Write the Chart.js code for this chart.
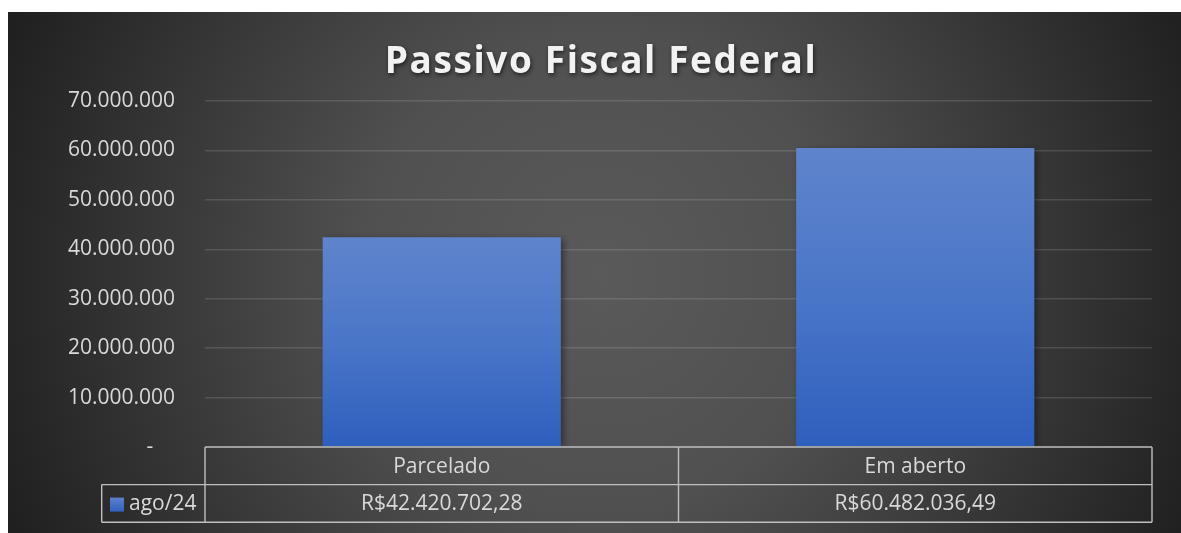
<!DOCTYPE html>
<html>
<head>
<meta charset="utf-8">
<script src="https://cdn.jsdelivr.net/npm/chart.js@4"></script>
<style>
  html, body { margin: 0; padding: 0; background: #fff; }
  #wrap { position: absolute; left: 8px; top: 12px; width: 1173px; height: 521px; }
</style>
</head>
<body>
<div id="wrap"><canvas id="chart"></canvas></div>
<script>
// chart data
const categories = ['Parcelado', 'Em aberto'];
const seriesName = 'ago/24';
const values = [42420702.28, 60482036.49];
const yTicks = [0, 10000000, 20000000, 30000000, 40000000, 50000000, 60000000, 70000000];
const titleText = 'Passivo Fiscal Federal';

const FONT = '"Open Sans", sans-serif';
const TEXT_COLOR = '#d9d9d9';

function fmtThousands(v) {
  if (v === 0) return '-    ';
  return v.toString().replace(/\B(?=(\d{3})+(?!\d))/g, '.');
}

function fmtMoney(v) {
  const parts = v.toFixed(2).split('.');
  return 'R$' + parts[0].replace(/\B(?=(\d{3})+(?!\d))/g, '.') + ',' + parts[1];
}

// dark radial background
const bgPlugin = {
  id: 'bg',
  beforeDraw(chart) {
    const { ctx, width, height } = chart;
    const g = ctx.createRadialGradient(592, 262, 0, 592, 262, 680);
    g.addColorStop(0, '#5a5a5a');
    g.addColorStop(0.35, '#505050');
    g.addColorStop(1, '#1b1b1b');
    ctx.save();
    ctx.fillStyle = g;
    ctx.fillRect(0, 0, width, height);
    ctx.restore();
  }
};

// title with letter spacing and shadow
const titlePlugin = {
  id: 'bigTitle',
  afterDraw(chart) {
    const ctx = chart.ctx;
    ctx.save();
    ctx.font = 'bold 37px ' + FONT;
    ctx.letterSpacing = '1.6px';
    ctx.textAlign = 'center';
    ctx.textBaseline = 'alphabetic';
    ctx.shadowColor = 'rgba(0,0,0,0.6)';
    ctx.shadowBlur = 4;
    ctx.shadowOffsetX = 1;
    ctx.shadowOffsetY = 2;
    ctx.fillStyle = '#f2f2f2';
    ctx.fillText(titleText, 593, 61);
    ctx.restore();
  }
};

// shadow behind bars
const barShadow = {
  id: 'barShadow',
  beforeDatasetsDraw(chart) {
    const ctx = chart.ctx;
    ctx.save();
    ctx.shadowColor = 'rgba(0,0,0,0.45)';
    ctx.shadowBlur = 7;
    ctx.shadowOffsetX = 3;
    ctx.shadowOffsetY = 2;
  },
  afterDatasetsDraw(chart) {
    chart.ctx.restore();
  }
};

// data table under the plot
const tablePlugin = {
  id: 'dataTable',
  afterDraw(chart) {
    const { ctx, chartArea } = chart;
    const xs = chart.scales.x;
    const top = chartArea.bottom;
    const rowH = 37.6;
    const mid = top + rowH;
    const bot = mid + rowH;
    const legLeft = 93.7;
    const left = chartArea.left, right = chartArea.right;

    const bounds = [left];
    for (let i = 0; i < categories.length - 1; i++) {
      bounds.push((xs.getPixelForValue(i) + xs.getPixelForValue(i + 1)) / 2);
    }
    bounds.push(right);

    ctx.save();
    ctx.strokeStyle = '#bfbfbf';
    ctx.lineWidth = 1.4;
    ctx.beginPath();
    ctx.moveTo(left, top); ctx.lineTo(right, top);
    ctx.moveTo(legLeft, mid); ctx.lineTo(right, mid);
    ctx.moveTo(legLeft, bot); ctx.lineTo(right, bot);
    ctx.moveTo(legLeft, mid); ctx.lineTo(legLeft, bot);
    bounds.forEach(b => { ctx.moveTo(b, top); ctx.lineTo(b, bot); });
    ctx.stroke();

    ctx.font = '21px ' + FONT;
    ctx.fillStyle = TEXT_COLOR;
    ctx.textBaseline = 'middle';
    ctx.textAlign = 'center';
    categories.forEach((c, i) => {
      const cx = xs.getPixelForValue(i);
      ctx.fillText(c, cx, top + rowH / 2 + 1);
      ctx.fillText(fmtMoney(values[i]), cx, mid + rowH / 2 + 1);
    });

    // legend key
    const sw = ctx.createLinearGradient(0, mid + 13, 0, mid + 27);
    sw.addColorStop(0, '#5b80ca');
    sw.addColorStop(1, '#2f62c0');
    ctx.fillStyle = sw;
    ctx.fillRect(102, mid + 13, 14, 14);
    ctx.fillStyle = TEXT_COLOR;
    ctx.textAlign = 'left';
    ctx.fillText(seriesName, 121, mid + rowH / 2 + 1);
    ctx.restore();
  }
};

function barFill(context) {
  const chart = context.chart;
  const ys = chart.scales.y;
  if (!ys || !chart.chartArea) return '#4472c4';
  const v = values[context.dataIndex];
  const y0 = ys.getPixelForValue(v);
  const y1 = ys.getPixelForValue(0);
  if (!isFinite(y0) || !isFinite(y1)) return '#4472c4';
  const g = chart.ctx.createLinearGradient(0, y0, 0, y1);
  g.addColorStop(0, '#5f84cc');
  g.addColorStop(0.5, '#4a76c8');
  g.addColorStop(1, '#2e5fbd');
  return g;
}

new Chart(document.getElementById('chart'), {
  type: 'bar',
  data: {
    labels: categories,
    datasets: [{
      label: seriesName,
      data: values,
      backgroundColor: barFill,
      borderWidth: 0,
      barPercentage: 0.503,
      categoryPercentage: 1
    }]
  },
  options: {
    responsive: true,
    maintainAspectRatio: false,
    animation: false,
    layout: { padding: { top: 89, bottom: 86, right: 29, left: 0 } },
    plugins: {
      legend: { display: false },
      title: { display: false },
      tooltip: { enabled: false }
    },
    scales: {
      x: { display: false },
      y: {
        min: 0,
        max: 70000000,
        afterBuildTicks(scale) { scale.ticks = yTicks.map(v => ({ value: v })); },
        afterFit(scale) { scale.width = 197; },
        border: { display: false },
        grid: {
          color: ctx => ctx.tick && ctx.tick.value === 0 ? 'rgba(0,0,0,0)' : 'rgba(255,255,255,0.13)',
          lineWidth: 1.5,
          drawTicks: false
        },
        ticks: {
          padding: 30,
          color: TEXT_COLOR,
          font: { family: FONT, size: 21 },
          callback: v => fmtThousands(v)
        }
      }
    }
  },
  plugins: [bgPlugin, barShadow, tablePlugin, titlePlugin]
});
</script>
</body>
</html>
